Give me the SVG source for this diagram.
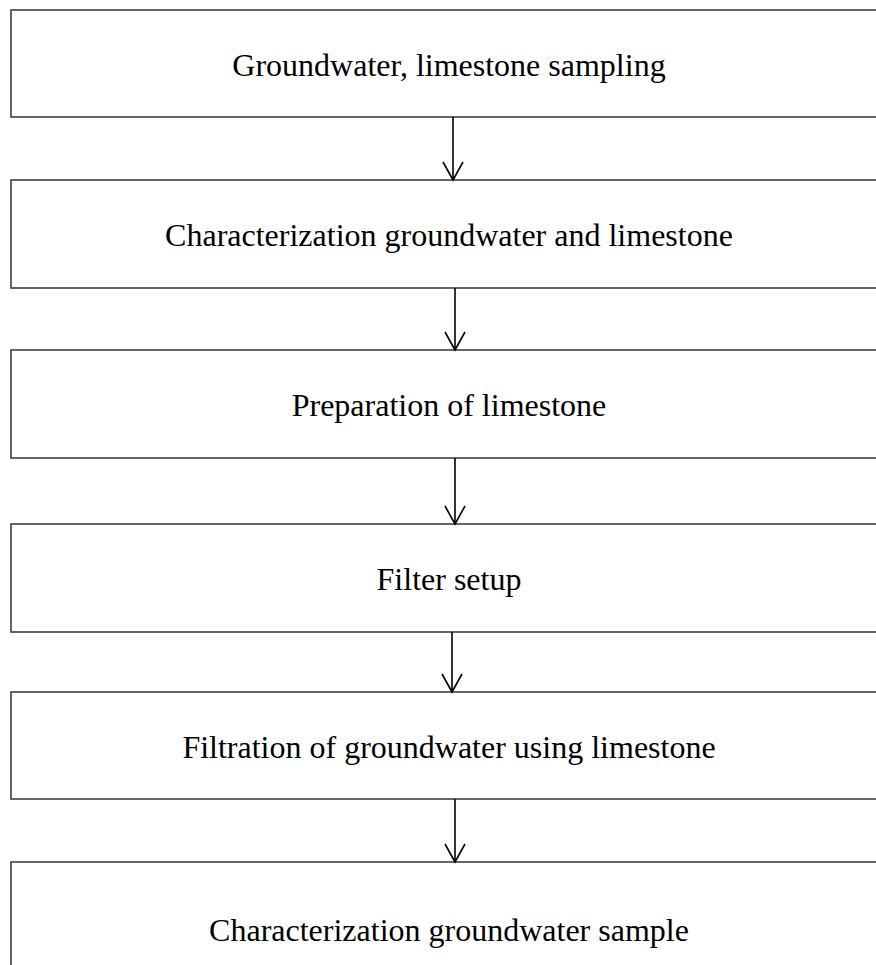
<svg xmlns="http://www.w3.org/2000/svg" width="876" height="965" viewBox="0 0 876 965">
<style>
.box{fill:#fff;stroke:#404040;stroke-width:1.6}
.lbl{font-family:"Liberation Serif","Times New Roman",serif;font-size:32px;fill:#000;text-anchor:middle}
.con{stroke:#000;stroke-width:1.6;fill:none;marker-end:url(#ah)}
</style>
<defs>
<marker id="ah" markerUnits="userSpaceOnUse" markerWidth="22" markerHeight="24" viewBox="-20 -12 22 24" refX="0" refY="0" orient="auto" overflow="visible">
<path d="M-18,-10 L0,0 L-18,10" fill="none" stroke="#000" stroke-width="1.6"/>
</marker>
</defs>
<rect width="876" height="965" fill="#fff"/>
<g id="n1"><rect class="box" x="11" y="10" width="900" height="107"/><text class="lbl" x="449" y="76">Groundwater, limestone sampling</text></g>
<g id="n2"><rect class="box" x="11" y="180" width="900" height="108"/><text class="lbl" x="449" y="246">Characterization groundwater and limestone</text></g>
<g id="n3"><rect class="box" x="11" y="350" width="900" height="108"/><text class="lbl" x="449" y="416">Preparation of limestone</text></g>
<g id="n4"><rect class="box" x="11" y="524" width="900" height="108"/><text class="lbl" x="449" y="590">Filter setup</text></g>
<g id="n5"><rect class="box" x="11" y="692" width="900" height="107"/><text class="lbl" x="449" y="758">Filtration of groundwater using limestone</text></g>
<g id="n6"><rect class="box" x="11" y="862" width="900" height="140"/><text class="lbl" x="449" y="941">Characterization groundwater sample</text></g>
<g id="connectors">
<path class="con" d="M453,117 V180"/>
<path class="con" d="M455,288 V350"/>
<path class="con" d="M455,458 V524"/>
<path class="con" d="M452,632 V692"/>
<path class="con" d="M455,799 V862"/>
</g>
</svg>
